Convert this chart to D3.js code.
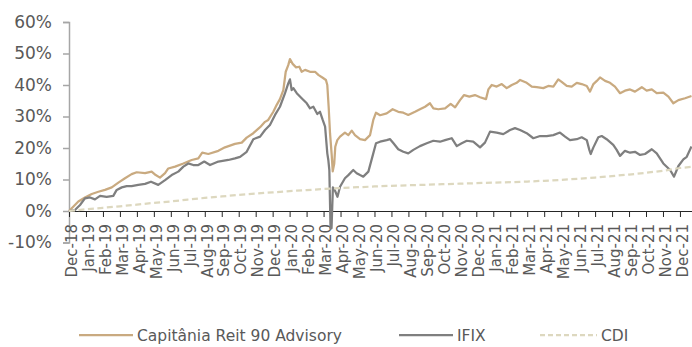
<!DOCTYPE html>
<html>
<head>
<meta charset="utf-8">
<script src="https://cdn.jsdelivr.net/npm/d3@7"></script>
<style>
  html, body { margin: 0; padding: 0; background: #fff; }
  svg { display: block; }
  text { font-family: "DejaVu Sans", sans-serif; fill: #595959; }
</style>
</head>
<body>
<svg id="chart" width="692" height="347"></svg>
<script>
// Month labels along the time axis (one tick per month, Dec-18 .. Dec-21)
const monthLabels = [
  "Dec-18","Jan-19","Feb-19","Mar-19","Apr-19","May-19","Jun-19","Jul-19","Aug-19","Sep-19","Oct-19","Nov-19","Dec-19",
  "Jan-20","Feb-20","Mar-20","Apr-20","May-20","Jun-20","Jul-20","Aug-20","Sep-20","Oct-20","Nov-20","Dec-20",
  "Jan-21","Feb-21","Mar-21","Apr-21","May-21","Jun-21","Jul-21","Aug-21","Sep-21","Oct-21","Nov-21","Dec-21"
];
const yTicks = [-10, 0, 10, 20, 30, 40, 50, 60];

// Capitânia Reit 90 Advisory: months since start, cumulative return (%)
const capT = [0,0.06,0.55,0.94,1.34,1.73,2.12,2.52,2.91,3.30,3.69,3.99,4.48,4.87,5.11,5.36,5.66,5.85,6.25,6.74,7.23,7.62,7.85,8.21,8.80,9.19,9.78,10.18,
  10.47,10.86,11.26,11.55,11.74,12.04,12.24,12.43,12.63,12.77,12.92,13.02,13.18,13.38,13.57,13.71,13.91,14.20,14.50,14.69,14.95,15.14,15.22,15.30,15.38,15.48,15.54,15.63,15.69,15.81,15.97,
  16.26,16.46,16.66,16.85,17.15,17.44,17.74,17.93,18.09,18.33,18.72,19.07,19.40,19.70,19.99,20.39,20.68,20.98,21.27,21.47,21.76,22.16,22.49,22.75,23.04,23.28,23.59,23.92,24.22,24.57,24.71,24.91,
  25.20,25.50,25.79,26.09,26.38,26.58,26.97,27.27,27.56,27.95,28.24,28.54,28.83,29.03,29.33,29.62,29.92,30.21,30.51,30.70,30.90,31.10,31.29,31.59,31.88,32.17,32.47,32.76,33.06,33.35,33.75,
  34.04,34.34,34.63,35.02,35.32,35.61,35.91,36.30,36.68];
const capV = [0,0.3,3.0,4.3,5.4,6.1,6.7,7.5,9.0,10.4,11.7,12.3,12.0,12.5,11.4,10.6,12.0,13.5,14.1,15.1,16.2,16.7,18.5,18.1,19.1,20.2,21.3,21.7,
  23.3,24.7,26.6,28.3,28.9,31.5,33.7,35.5,38.4,44.2,46.3,48.2,46.7,45.6,45.8,44.2,44.8,44.2,44.2,43.2,42.3,41.6,40.0,33.1,24.7,17.8,12.6,15.1,20.4,22.5,23.6,
  24.9,24.1,25.5,24.1,22.8,22.5,24.1,28.9,31.2,30.4,31.0,32.3,31.5,31.2,30.5,31.5,32.3,33.1,34.2,32.6,32.3,32.6,34.0,32.9,35.2,36.8,36.3,36.8,36.1,35.5,38.6,40.0,
  39.5,40.3,39.0,40.0,40.7,41.6,40.7,39.5,39.3,39.0,39.7,39.5,41.8,41.0,39.7,39.5,40.7,40.3,39.7,37.9,40.3,41.3,42.4,41.3,40.7,39.5,37.4,38.2,38.6,37.9,39.3,
  38.2,38.6,37.4,37.6,36.3,34.2,35.2,35.8,36.5];

// IFIX: months since start, cumulative return (%)
const ifixT = [0,0.35,0.65,0.94,1.24,1.53,1.83,2.22,2.61,2.81,3.11,3.40,3.69,4.08,4.48,4.83,5.26,5.66,6.05,6.44,6.74,7.03,7.32,7.62,7.97,8.31,8.80,9.39,9.78,10.08,
  10.47,10.86,11.26,11.55,11.84,12.14,12.43,12.73,12.92,13.02,13.12,13.22,13.42,13.71,14.01,14.20,14.40,14.63,14.79,14.95,15.09,15.22,15.28,15.34,15.41,15.47,15.55,15.67,15.82,15.97,
  16.26,16.46,16.75,16.95,17.15,17.34,17.64,17.93,18.09,18.33,18.72,18.92,19.12,19.40,19.70,19.99,20.29,20.68,21.08,21.47,21.86,22.16,22.55,22.85,23.14,23.44,23.82,24.22,24.51,24.81,
  25.20,25.59,25.99,26.28,26.58,26.97,27.36,27.76,28.15,28.54,28.93,29.23,29.52,29.92,30.21,30.51,30.66,30.74,30.90,31.19,31.39,31.68,32.07,32.27,32.47,32.76,33.06,33.35,33.65,33.94,
  34.34,34.63,35.02,35.42,35.65,35.91,36.20,36.40,36.68];
const ifixV = [0,0.3,1.9,4.0,4.3,3.7,4.8,4.5,4.8,6.7,7.5,7.9,7.9,8.3,8.6,9.3,8.3,9.8,11.4,12.5,14.1,15.1,14.6,14.6,15.7,14.6,15.7,16.2,16.7,17.2,
  18.8,22.8,23.6,25.7,27.3,30.5,33.1,37.4,40.5,41.8,38.4,39.0,37.4,35.8,34.2,32.6,33.1,30.8,31.5,28.9,26.8,18.3,16.2,13.0,-5.5,-5.5,7.5,6.5,4.5,7.7,
  10.4,11.4,13.0,12.0,11.4,10.9,12.5,18.3,21.5,22.0,22.5,22.8,21.5,19.6,18.8,18.3,19.4,20.6,21.5,22.3,22.0,22.5,23.1,20.6,21.5,22.3,22.0,20.2,21.7,25.2,
  24.9,24.4,25.7,26.3,25.7,24.7,23.1,23.8,23.8,24.1,24.9,23.6,22.5,22.8,23.4,22.5,19.4,18.1,20.2,23.4,23.8,22.8,21.0,19.4,17.5,19.1,18.5,18.8,17.8,18.1,
  19.6,18.3,15.1,13.0,10.9,14.3,16.4,17.2,20.5];

// CDI: months since start, cumulative return (%)
const cdiT = [0,1,2,3,4,5,6,7,8,9,10,11,12,13,14,15,16,17,18,19,20,21,22,23,24,25,26,27,28,29,30,31,32,33,34,35,36,36.68];
const cdiV = [0,0.54,1.03,1.50,2.02,2.57,3.05,3.63,4.15,4.62,5.12,5.52,5.92,6.32,6.63,6.99,7.29,7.55,7.78,7.99,8.16,8.33,8.50,8.67,8.84,
  9.00,9.14,9.36,9.59,9.89,10.23,10.63,11.09,11.58,12.12,12.78,13.65,14.0];

const seriesNames = ["Capitânia Reit 90 Advisory", "IFIX", "CDI"];
const seriesColors = ["#C9AA80", "#7F7F7F", "#DDD8BF"];

const svg = d3.select("#chart");

const x = d3.scaleLinear().domain([0, 36.71]).range([69, 692]);
const y = d3.scaleLinear().domain([-10, 60]).range([242.5, 22]);

// Y axis
const yAxis = svg.append("g")
  .attr("transform", "translate(69,0)")
  .call(d3.axisLeft(y).tickValues(yTicks).tickSize(6).tickPadding(11).tickFormat(d => d + "%"));
yAxis.select(".domain").attr("stroke", "#A6A6A6").attr("stroke-width", 1.5);
yAxis.selectAll(".tick line").attr("stroke", "#A6A6A6").attr("stroke-width", 1.5);
yAxis.selectAll(".tick text").style("font-size", "17px").attr("fill", "#595959");

// Lines
const pairs = (t, v) => t.map((d, i) => [d, v[i]]);
const line = d3.line().x(d => x(d[0])).y(d => y(d[1]));
const data = [pairs(capT, capV), pairs(ifixT, ifixV), pairs(cdiT, cdiV)];

// X axis at 0%
const xAxis = svg.append("g")
  .attr("transform", `translate(0,${y(0)})`)
  .call(d3.axisBottom(x).tickValues(d3.range(monthLabels.length)).tickSize(6).tickSizeOuter(0)
    .tickFormat(i => monthLabels[i]));
xAxis.select(".domain").attr("stroke", "#262626");
xAxis.selectAll(".tick line").attr("stroke", "#262626");
xAxis.selectAll(".tick text")
  .attr("transform", "rotate(-90)")
  .attr("x", -13)
  .attr("y", 2)
  .attr("dy", "0.35em")
  .style("text-anchor", "end")
  .style("font-size", "15px")
  .attr("fill", "#595959");

svg.append("g").selectAll("path")
  .data(data)
  .join("path")
  .attr("d", line)
  .attr("fill", "none")
  .attr("stroke", (d, i) => seriesColors[i])
  .attr("stroke-width", 2.25)
  .attr("stroke-linejoin", "round")
  .attr("stroke-dasharray", (d, i) => i === 2 ? "6,3.5" : null);

// Legend
const legendX = [79, 399, 540];
const legendW = [54, 54, 57];
const legend = svg.append("g").selectAll("g")
  .data(seriesNames)
  .join("g")
  .attr("transform", (d, i) => `translate(${legendX[i]},335)`);
legend.append("line")
  .attr("x1", 0).attr("x2", (d, i) => legendW[i])
  .attr("stroke", (d, i) => seriesColors[i])
  .attr("stroke-width", 2.25)
  .attr("stroke-dasharray", (d, i) => i === 2 ? "5,3" : null);
legend.append("text")
  .attr("x", (d, i) => legendW[i] + 4)
  .attr("y", 1)
  .attr("dy", "0.35em")
  .style("font-size", "15.5px")
  .text(d => d);
</script>
</body>
</html>
